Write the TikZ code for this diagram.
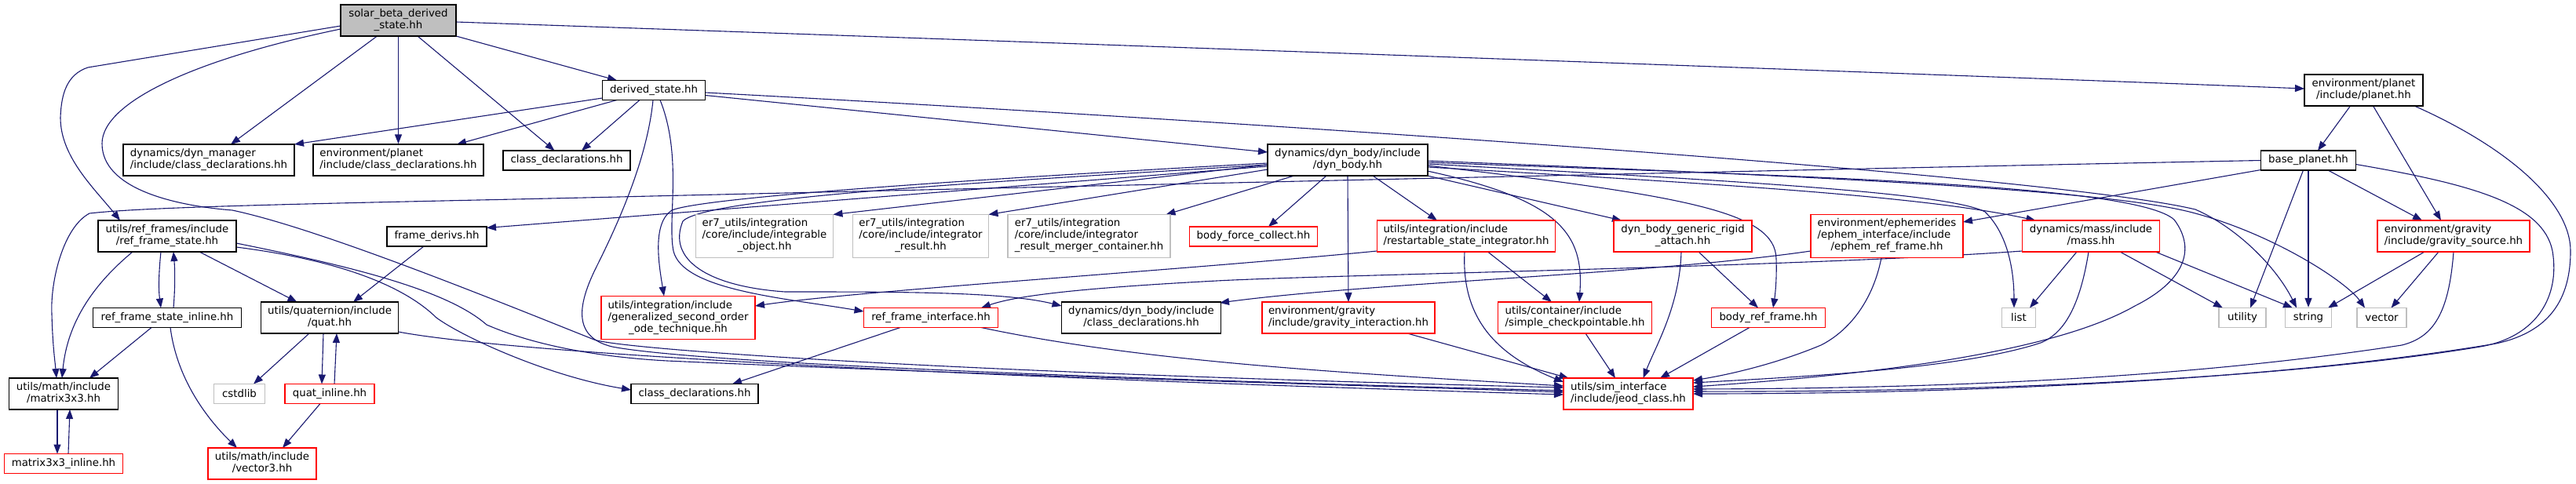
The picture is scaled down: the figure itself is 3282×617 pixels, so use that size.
\documentclass[tikz,border=0pt]{standalone}
\usepackage{fontspec}
\setmainfont{DejaVu Sans}
\usetikzlibrary{calc,arrows.meta}
\definecolor{edgec}{HTML}{191970}
\definecolor{grayb}{HTML}{BFBFBF}
\definecolor{redb}{HTML}{FF0000}
\newcommand\twol[2]{\begin{tabular}{@{}l@{}}#1\\\multicolumn{1}{@{}c@{}}{#2}\end{tabular}}
\newcommand\thrl[3]{\begin{tabular}{@{}l@{}}#1\\#2\\\multicolumn{1}{@{}c@{}}{#3}\end{tabular}}
\pgfdeclarelayer{bg}
\pgfsetlayers{bg,main}
\begin{document}
\begin{tikzpicture}[x=1pt,y=-1pt,
  font=\fontsize{13.33}{15}\selectfont,
  box/.style={draw, line width=1.3pt, inner sep=0pt, fill=white, align=center, text=black},
  blk/.style={box, draw=black},
  redbox/.style={box, draw=redb},
  graybox/.style={box, draw=grayb},
  conn/.style={draw=edgec, line width=1.1pt, -{Triangle[length=12pt,width=9pt]}}]
\useasboundingbox (0,0) rectangle (3282,617);
% nodes
\node[blk, fill=grayb, minimum width=147pt, minimum height=40pt] (solar) at (507.5,26) {\twol{solar\_beta\_derived}{\_state.hh}};
\node[blk, minimum width=131pt, minimum height=25pt] (derived) at (833,115) {derived\_state.hh};
\node[blk, minimum width=218pt, minimum height=40pt] (dmcd) at (266,204) {\twol{dynamics/dyn\_manager}{/include/class\_declarations.hh}};
\node[blk, minimum width=217pt, minimum height=40pt] (epcd) at (507.5,204) {\twol{environment/planet}{/include/class\_declarations.hh}};
\node[blk, minimum width=162pt, minimum height=25pt] (cd1) at (722,204.5) {class\_declarations.hh};
\node[blk, minimum width=151pt, minimum height=40pt] (planet) at (3011.5,115) {\twol{environment/planet}{/include/planet.hh}};
\node[blk, minimum width=204pt, minimum height=40pt] (dynbody) at (1717,204) {\twol{dynamics/dyn\_body/include}{/dyn\_body.hh}};
\node[blk, minimum width=121pt, minimum height=25pt] (bp) at (2941,204.5) {base\_planet.hh};
\node[blk, minimum width=176pt, minimum height=40pt] (rfs) at (213,301) {\twol{utils/ref\_frames/include}{/ref\_frame\_state.hh}};
\node[blk, minimum width=127pt, minimum height=25pt] (fd) at (556.5,301.5) {frame\_derivs.hh};
\node[graybox, minimum width=175pt, minimum height=55pt] (er7a) at (974,301) {\thrl{er7\_utils/integration}{/core/include/integrable}{\_object.hh}};
\node[graybox, minimum width=173pt, minimum height=55pt] (er7b) at (1173,301) {\thrl{er7\_utils/integration}{/core/include/integrator}{\_result.hh}};
\node[graybox, minimum width=207pt, minimum height=55pt] (er7c) at (1387.5,301) {\thrl{er7\_utils/integration}{/core/include/integrator}{\_result\_merger\_container.hh}};
\node[redbox, minimum width=163pt, minimum height=25pt] (bfc) at (1597,301.5) {body\_force\_collect.hh};
\node[redbox, minimum width=227pt, minimum height=40pt] (rsi) at (1868,301) {\twol{utils/integration/include}{/restartable\_state\_integrator.hh}};
\node[redbox, minimum width=176pt, minimum height=40pt] (dbgra) at (2144,301) {\twol{dyn\_body\_generic\_rigid}{\_attach.hh}};
\node[redbox, minimum width=194pt, minimum height=55pt] (ephem) at (2404,301) {\thrl{environment/ephemerides}{/ephem\_interface/include}{/ephem\_ref\_frame.hh}};
\node[redbox, minimum width=175pt, minimum height=40pt] (mass) at (2664,301) {\twol{dynamics/mass/include}{/mass.hh}};
\node[redbox, minimum width=194pt, minimum height=40pt] (gsrc) at (3126,301) {\twol{environment/gravity}{/include/gravity\_source.hh}};
\node[blk, minimum width=189pt, minimum height=25pt] (rfsi) at (213,405) {ref\_frame\_state\_inline.hh};
\node[blk, minimum width=175pt, minimum height=40pt] (quat) at (420,405) {\twol{utils/quaternion/include}{/quat.hh}};
\node[redbox, minimum width=196pt, minimum height=55pt] (gsot) at (864,405) {\thrl{utils/integration/include}{/generalized\_second\_order}{\_ode\_technique.hh}};
\node[redbox, minimum width=171pt, minimum height=25pt] (rfi) at (1186,405) {ref\_frame\_interface.hh};
\node[blk, minimum width=203pt, minimum height=40pt] (dbcd) at (1454,405) {\twol{dynamics/dyn\_body/include}{/class\_declarations.hh}};
\node[redbox, minimum width=220pt, minimum height=40pt] (gint) at (1718,405) {\twol{environment/gravity}{/include/gravity\_interaction.hh}};
\node[redbox, minimum width=196pt, minimum height=40pt] (schk) at (2006.5,405) {\twol{utils/container/include}{/simple\_checkpointable.hh}};
\node[redbox, minimum width=145pt, minimum height=25pt] (brf) at (2253,405) {body\_ref\_frame.hh};
\node[graybox, minimum width=43pt, minimum height=25pt] (list) at (2572,405) {list};
\node[graybox, minimum width=60pt, minimum height=25pt] (utility) at (2857,405) {utility};
\node[graybox, minimum width=59pt, minimum height=25pt] (string) at (2941,405) {string};
\node[graybox, minimum width=63pt, minimum height=25pt] (vector) at (3034.5,405) {vector};
\node[blk, minimum width=139pt, minimum height=40pt] (m33) at (81,502) {\twol{utils/math/include}{/matrix3x3.hh}};
\node[graybox, minimum width=65pt, minimum height=25pt] (cstdlib) at (305,502) {cstdlib};
\node[redbox, minimum width=114pt, minimum height=25pt] (quatinl) at (420,502) {quat\_inline.hh};
\node[blk, minimum width=162pt, minimum height=25pt] (cd2) at (885,502) {class\_declarations.hh};
\node[redbox, minimum width=165pt, minimum height=40pt] (jeod) at (2074.5,502) {\twol{utils/sim\_interface}{/include/jeod\_class.hh}};
\node[redbox, minimum width=151pt, minimum height=25pt] (m33inl) at (81,591) {matrix3x3\_inline.hh};
\node[redbox, minimum width=138pt, minimum height=40pt] (vec3) at (334,591) {\twol{utils/math/include}{/vector3.hh}};
% edges
\begin{pgfonlayer}{bg}
\draw[conn] ($(solar)+(73.5,20)$) -- ($(derived)+(-47,-12.5)$);
\draw[conn] ($(solar)+(-27,20)$) -- ($(dmcd)+(28,-20)$);
\draw[conn] (solar.south) -- (epcd.north);
\draw[conn] ($(solar)+(24.5,20)$) -- ($(cd1)+(-15.5,-12.5)$);
\draw[conn] ($(solar)+(73.5,2)$) .. controls (1500,60) and (2500,96) .. ($(planet)+(-75.5,-2)$);
\draw[conn] ($(solar)+(-73.5,7)$) -- (112,86) .. controls (85,95) and (78,120) .. (77,150) .. controls (77,200) and (120,240) .. ($(rfs)+(-60,-20)$);
\draw[conn] ($(solar)+(-73.5,11)$) .. controls (250,75) and (130,130) .. (130,183) .. controls (130,240) and (220,262) .. (296,268) .. controls (400,290) and (600,370) .. (757,433) .. controls (790,445) and (1200,475) .. ($(jeod)+(-82.5,-8)$);
\draw[conn] ($(derived)+(-65.5,10)$) -- ($(dmcd)+(109,-20)$);
\draw[conn] ($(derived)+(-47,12.5)$) -- ($(epcd)+(74.5,-20)$);
\draw[conn] ($(derived)+(-18,12.5)$) -- ($(cd1)+(19,-12.5)$);
\draw[conn] ($(derived)+(65.5,6.5)$) -- ($(dynbody)+(-102,-10)$);
\draw[conn] ($(derived)+(65.5,3)$) .. controls (1500,150) and (2600,220) .. (2797,267) .. controls (2850,290) and (2900,340) .. ($(string)+(-15,-12.5)$);
\draw[conn] ($(derived)+(-1,12.5)$) .. controls (825,200) and (790,280) .. (760,340) .. controls (735,390) and (730,430) .. (780,442) .. controls (900,465) and (1500,485) .. ($(jeod)+(-82.5,-4)$);
\draw[conn] ($(derived)+(8,12.5)$) .. controls (870,200) and (850,280) .. (858,320) .. controls (870,370) and (1000,380) .. ($(rfi)+(-85.5,-8)$);
% dyn_body
\draw[conn] ($(dynbody)+(-102,4)$) .. controls (1300,225) and (900,250) .. (856,268) .. controls (830,285) and (840,340) .. ($(gsot)+(-18,-27.5)$);
\draw[conn] ($(dynbody)+(-102,6)$) .. controls (1300,230) and (900,250) .. (870,282) .. controls (850,330) and (900,365) .. (1000,372) .. controls (1150,372) and (1280,372) .. ($(dbcd)+(-101.5,-15)$);
\draw[conn] ($(dynbody)+(-102,6)$) -- ($(er7a)+(87.5,-27.5)$);
\draw[conn] ($(dynbody)+(-102,12)$) -- ($(er7b)+(86.5,-27.5)$);
\draw[conn] ($(dynbody)+(-68,20)$) -- ($(er7c)+(98,-27.5)$);
\draw[conn] ($(dynbody)+(-27,20)$) -- ($(bfc)+(19,-12.5)$);
\draw[conn] ($(dynbody)+(32,20)$) -- ($(rsi)+(-37,-20)$);
\draw[conn] ($(dynbody)+(0,20)$) -- ($(gint)+(0,-20)$);
\draw[conn] ($(dynbody)+(101.5,20)$) -- ($(dbgra)+(-78,-20)$);
\draw[conn] ($(dynbody)+(101.5,14)$) .. controls (1990,255) and (2018,300) .. ($(schk)+(5.5,-20)$);
\draw[conn] ($(dynbody)+(101.5,7)$) .. controls (2150,250) and (2262,270) .. (2263,330) .. controls (2264,360) and (2261,380) .. ($(brf)+(6,-12.5)$);
\draw[conn] ($(dynbody)+(101.5,3)$) .. controls (2300,225) and (2720,235) .. (2770,280) .. controls (2800,320) and (2780,360) .. (2720,390) .. controls (2650,430) and (2500,470) .. ($(jeod)+(82.5,-9)$);
\draw[conn] ($(dynbody)+(101.5,1)$) .. controls (2400,228) and (2700,245) .. (2797,272) .. controls (2900,300) and (2990,360) .. ($(vector)+(-21.5,-12.5)$);
\draw[conn] ($(dynbody)+(101.5,5)$) .. controls (2200,230) and (2480,245) .. (2529,270) .. controls (2560,300) and (2566,350) .. ($(list)+(-6,-12.5)$);
\draw[conn] ($(dynbody)+(101.5,9)$) .. controls (2200,235) and (2450,250) .. ($(mass)+(-70.5,-20)$);
\draw[conn] ($(dynbody)+(-102,8)$) -- ($(fd)+(63.5,-11)$);
% base_planet / planet / gravity source
\draw[conn] ($(bp)+(-60.5,0)$) .. controls (2500,212) and (1600,232) .. (830,250) .. controls (500,258) and (200,262) .. (114,272) .. controls (80,290) and (64,360) .. (66,400) .. controls (67,440) and (70,460) .. ($(m33)+(-9,-20)$);
\draw[conn] ($(bp)+(-60.5,12)$) -- ($(ephem)+(97,-18)$);
\draw[conn] ($(bp)+(-6.5,12.5)$) -- ($(utility)+(10,-12.5)$);
\draw[conn] (bp.south) -- (string.north);
\draw[conn] ($(bp)+(25,12.5)$) -- ($(gsrc)+(-40,-20)$);
\draw[conn] ($(bp)+(60.5,5)$) .. controls (3150,235) and (3240,260) .. (3252,320) .. controls (3262,380) and (3230,430) .. (3160,442) .. controls (2900,485) and (2500,500) .. ($(jeod)+(82.5,-3)$);
\draw[conn] ($(planet)+(-17,20)$) -- ($(bp)+(12,-12.5)$);
\draw[conn] ($(planet)+(12,20)$) -- ($(gsrc)+(-16,-20)$);
\draw[conn] ($(planet)+(64.5,20)$) .. controls (3200,190) and (3275,260) .. (3275,320) .. controls (3275,390) and (3240,425) .. (3180,438) .. controls (2900,485) and (2500,502) .. ($(jeod)+(82.5,0)$);
\draw[conn] ($(gsrc)+(-37,20)$) -- ($(string)+(25,-12.5)$);
\draw[conn] ($(gsrc)+(-19,20)$) -- ($(vector)+(12,-12.5)$);
\draw[conn] ($(gsrc)+(0,20)$) .. controls (3120,400) and (3100,430) .. (3060,440) .. controls (2800,480) and (2500,495) .. ($(jeod)+(82.5,-6)$);
% mass
\draw[conn] ($(mass)+(-18,20)$) -- ($(list)+(14,-12.5)$);
\draw[conn] ($(mass)+(37,20)$) -- ($(utility)+(-25,-12.5)$);
\draw[conn] ($(mass)+(82,20)$) -- ($(string)+(-20,-12.5)$);
\draw[conn] ($(mass)+(-3,20)$) .. controls (2650,390) and (2630,425) .. (2600,437) .. controls (2500,470) and (2300,480) .. ($(jeod)+(82.5,-14)$);
\draw[conn] ($(mass)+(-87.5,19)$) .. controls (2300,340) and (1700,350) .. (1550,358) .. controls (1400,366) and (1300,375) .. ($(rfi)+(64,-12.5)$);
% ephem
\draw[conn] ($(ephem)+(-97,19)$) .. controls (2100,350) and (1750,360) .. ($(dbcd)+(100,-19)$);
\draw[conn] ($(ephem)+(-7,27.5)$) .. controls (2385,390) and (2350,425) .. (2320,440) .. controls (2260,465) and (2200,478) .. ($(jeod)+(82.5,-17)$);
% restartable / rigid attach / etc.
\draw[conn] ($(rsi)+(-113.5,19)$) .. controls (1500,345) and (1100,370) .. ($(gsot)+(98,-15)$);
\draw[conn] ($(rsi)+(27.5,20)$) -- ($(schk)+(-29.5,-20)$);
\draw[conn] ($(rsi)+(-2,20)$) .. controls (1862,400) and (1900,450) .. ($(jeod)+(-82.5,-15)$);
\draw[conn] ($(dbgra)+(20,20)$) -- ($(brf)+(-13,-12.5)$);
\draw[conn] ($(dbgra)+(-2,20)$) .. controls (2140,390) and (2110,440) .. ($(jeod)+(19,-20)$);
\draw[conn] ($(brf)+(-24,12.5)$) -- ($(jeod)+(40.5,-20)$);
\draw[conn] ($(schk)+(13.5,20)$) -- ($(jeod)+(-16.5,-20)$);
\draw[conn] ($(gint)+(75,20)$) -- ($(jeod)+(-76,-20)$);
\draw[conn] ($(rfi)+(-39,12.5)$) -- ($(cd2)+(48,-12.5)$);
\draw[conn] ($(rfi)+(64,12.5)$) .. controls (1450,460) and (1700,475) .. ($(jeod)+(-82.5,-10)$);
% ref frame state group
\draw[conn] ($(rfs)+(-8,20)$) .. controls (202,350) and (202,370) .. ($(rfsi)+(-8,-12.5)$);
\draw[conn] ($(rfsi)+(8,-12.5)$) .. controls (223,370) and (223,345) .. ($(rfs)+(8,20)$);
\draw[conn] ($(rfs)+(41,20)$) -- ($(quat)+(-41.5,-20)$);
\draw[conn] ($(rfs)+(-44,20)$) .. controls (110,370) and (85,420) .. ($(m33)+(-2,-20)$);
\draw[conn] ($(rfs)+(88,14)$) .. controls (420,330) and (510,360) .. (556,405) .. controls (590,430) and (700,480) .. ($(cd2)+(-81,-5)$);
\draw[conn] ($(rfs)+(88,9)$) .. controls (450,340) and (570,370) .. (620,414) .. controls (680,440) and (760,455) .. (850,460) .. controls (1300,480) and (1700,490) .. ($(jeod)+(-82.5,-2)$);
\draw[conn] ($(quat)+(87.5,18)$) .. controls (650,450) and (1200,480) .. ($(jeod)+(-82.5,1)$);
\draw[conn] ($(quat)+(-26,20)$) -- ($(cstdlib)+(18,-12.5)$);
\draw[conn] ($(quat)+(-8,20)$) -- ($(quatinl)+(-10,-12.5)$);
\draw[conn] ($(quatinl)+(6,-12.5)$) -- ($(quat)+(9,20)$);
\draw[conn] ($(fd)+(-16.5,12.5)$) -- ($(quat)+(30,-20)$);
\draw[conn] ($(m33)+(-8,20)$) -- ($(m33inl)+(-8,-12.5)$);
\draw[conn] ($(m33inl)+(6,-12.5)$) -- ($(m33)+(8,20)$);
\draw[conn] ($(rfsi)+(-20,12.5)$) -- ($(m33)+(33,-20)$);
\draw[conn] ($(rfsi)+(4,12.5)$) .. controls (225,480) and (260,530) .. ($(vec3)+(-32,-20)$);
\draw[conn] ($(quatinl)+(-12,12.5)$) -- ($(vec3)+(26,-20)$);
\end{pgfonlayer}
\end{tikzpicture}
\end{document}
